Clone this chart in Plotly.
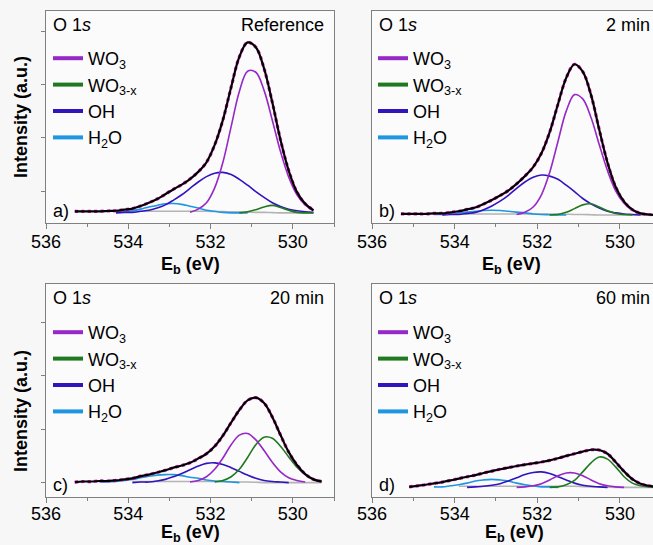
import plotly.graph_objects as go

# Binding-energy grid (eV) shared by every spectrum
E_GRID = [535.3, 535.1, 534.9, 534.7, 534.5, 534.3, 534.1, 533.9, 533.7, 533.5,
          533.3, 533.1, 532.9, 532.7, 532.5, 532.3, 532.1, 531.9, 531.7, 531.5,
          531.3, 531.1, 530.9, 530.7, 530.5, 530.3, 530.1, 529.9, 529.7, 529.5,
          529.3, 529.1]

# ---- a) Reference ----
ENV_A = [0.03, 0.03, 0.03, 0.03, 0.035, 0.04, 0.06, 0.08, 0.13, 0.19, 0.26, 0.35, 0.445,
         0.53, 0.635, 0.77, 0.95, 1.275, 1.745, 2.36, 2.93, 3.20, 3.11, 2.71, 2.075,
         1.37, 0.79, 0.39, 0.17, 0.05]
WO3_A = [0.01, 0.07, 0.19, 0.47, 0.95, 1.62, 2.28, 2.66, 2.64, 2.30, 1.74, 1.15, 0.67,
         0.34, 0.15, 0.04]
WOX_A = [0.00, 0.02, 0.06, 0.11, 0.14, 0.10, 0.05, 0.01, 0.00, 0.00]
OH_A = [0.00, 0.01, 0.01, 0.03, 0.05, 0.09, 0.15, 0.24, 0.34, 0.46, 0.58, 0.68, 0.745,
        0.76, 0.72, 0.63, 0.52, 0.40, 0.29, 0.19, 0.12, 0.07, 0.04, 0.02, 0.01]
H2O_A = [0.01, 0.02, 0.04, 0.07, 0.11, 0.14, 0.17, 0.175, 0.16, 0.125, 0.09, 0.05, 0.03,
         0.01, 0.00, 0.00, 0.00]
BG_A = [0.03, 0.03, 0.03, 0.03, 0.03, 0.03, 0.03, 0.03, 0.03, 0.03, 0.025, 0.025, 0.02,
        0.02, 0.015, 0.01, 0.01, 0.005, 0.0, 0.0, 0.0, 0.0, 0.0]

# ---- b) 2 min ----
ENV_B = [0.02, 0.02, 0.02, 0.02, 0.03, 0.03, 0.05, 0.07, 0.105, 0.14, 0.205, 0.28, 0.365,
         0.46, 0.585, 0.73, 0.90, 1.16, 1.556, 2.08, 2.575, 2.83, 2.69, 2.255, 1.60, 0.98,
         0.52, 0.25, 0.10, 0.03, 0.01, 0.0]
WO3_B = [0.01, 0.05, 0.15, 0.38, 0.80, 1.38, 1.95, 2.26, 2.18, 1.83, 1.32, 0.83, 0.45,
         0.22, 0.09, 0.03, 0.01]
WOX_B = [0.00, 0.01, 0.05, 0.12, 0.19, 0.21, 0.15, 0.08, 0.03, 0.01, 0.00]
OH_B = [0.00, 0.01, 0.01, 0.03, 0.05, 0.10, 0.17, 0.26, 0.37, 0.50, 0.62, 0.71, 0.75,
        0.73, 0.67, 0.56, 0.44, 0.31, 0.21, 0.13, 0.07, 0.04, 0.02, 0.01, 0.00]
H2O_B = [0.01, 0.01, 0.02, 0.04, 0.055, 0.07, 0.085, 0.09, 0.085, 0.07, 0.055, 0.04,
         0.02, 0.01, 0.006, 0.0, 0.0]
BG_B = [0.02, 0.02, 0.02, 0.02, 0.02, 0.02, 0.02, 0.02, 0.02, 0.02, 0.02, 0.02, 0.02,
        0.015, 0.01, 0.01, 0.005, 0.0, 0.0, 0.0, 0.0, 0.0, 0.0, 0.0, 0.0]

# ---- c) 20 min ----
ENV_C = [0.01, 0.02, 0.02, 0.03, 0.03, 0.04, 0.06, 0.08, 0.12, 0.15, 0.19, 0.23, 0.28,
         0.32, 0.37, 0.45, 0.54, 0.68, 0.88, 1.125, 1.36, 1.54, 1.59, 1.49, 1.23, 0.89,
         0.57, 0.33, 0.16, 0.06, 0.02]
WO3_C = [0.01, 0.04, 0.11, 0.25, 0.46, 0.71, 0.89, 0.92, 0.80, 0.60, 0.38, 0.20, 0.09,
         0.04, 0.01]
WOX_C = [0.01, 0.04, 0.11, 0.25, 0.47, 0.71, 0.85, 0.83, 0.68, 0.48, 0.29, 0.15, 0.06,
         0.02]
OH_C = [0.00, 0.01, 0.01, 0.03, 0.06, 0.11, 0.17, 0.24, 0.31, 0.36, 0.37, 0.34, 0.28,
        0.21, 0.14, 0.08, 0.04, 0.02, 0.01, 0.00]
H2O_C = [0.01, 0.01, 0.02, 0.04, 0.06, 0.09, 0.12, 0.14, 0.15, 0.15, 0.13, 0.10, 0.08,
         0.05, 0.03, 0.02, 0.01, 0.00]
BG_C = [0.02, 0.02, 0.02, 0.02, 0.02, 0.02, 0.02, 0.02, 0.02, 0.02, 0.02, 0.02, 0.015,
        0.01, 0.01, 0.005, 0.0, 0.0, 0.0, 0.0, 0.0, 0.0, 0.0, 0.0]

# ---- d) 60 min ----
ENV_D = [0.01, 0.03, 0.05, 0.075, 0.10, 0.13, 0.165, 0.20, 0.23, 0.27, 0.305, 0.34, 0.37,
         0.40, 0.425, 0.45, 0.475, 0.505, 0.545, 0.59, 0.63, 0.67, 0.705, 0.70, 0.63,
         0.47, 0.30, 0.155, 0.07, 0.03, 0.01]
WO3_D = [0.00, 0.01, 0.03, 0.07, 0.14, 0.22, 0.27, 0.27, 0.22, 0.14, 0.07, 0.03, 0.01,
         0.00]
WOX_D = [0.00, 0.01, 0.05, 0.13, 0.29, 0.46, 0.57, 0.53, 0.38, 0.20, 0.08, 0.03, 0.01,
         0.00]
OH_D = [0.00, 0.01, 0.02, 0.04, 0.07, 0.12, 0.18, 0.24, 0.28, 0.29, 0.26, 0.20, 0.14,
        0.08, 0.04, 0.02, 0.01, 0.00]
H2O_D = [0.01, 0.01, 0.03, 0.05, 0.08, 0.12, 0.14, 0.15, 0.14, 0.12, 0.08, 0.05, 0.03,
         0.01, 0.01, 0.00]
BG_D = [0.02, 0.02, 0.02, 0.02, 0.02, 0.02, 0.02, 0.02, 0.02, 0.02, 0.02, 0.02, 0.02,
        0.02, 0.02, 0.015, 0.01, 0.01, 0.005, 0.0, 0.0, 0.0, 0.0, 0.0, 0.0]

LEGEND_NAMES = ["WO<sub>3</sub>", "WO<sub>3-x</sub>", "OH", "H<sub>2</sub>O"]
PANEL_TAGS = ["a)", "b)", "c)", "d)"]
PANEL_TITLES = ["Reference", "2 min", "20 min", "60 min"]
X_TITLE = "<b>E<sub>b</sub> (eV)</b>"
Y_TITLE = "<b>Intensity (a.u.)</b>"

C_WO3 = "#9628c8"
C_WOX = "#1f7a1f"
C_OH = "#3214be"
C_H2O = "#1e96e1"
C_BG = "#b4b4b4"
C_DATA = "#e61ec8"
C_FIT = "#000000"
FRAME = "#808080"
FONT = "Liberation Sans, Arial, sans-serif"

# (start energy of each series, values)
PANELS = [
    dict(env=(535.3, ENV_A), wo3=(532.5, WO3_A), wox=(531.3, WOX_A), oh=(534.3, OH_A),
         h2o=(534.3, H2O_A), bg=(533.9, BG_A)),
    dict(env=(535.3, ENV_B), wo3=(532.5, WO3_B), wox=(531.7, WOX_B), oh=(534.3, OH_B),
         h2o=(534.5, H2O_B), bg=(533.9, BG_B)),
    dict(env=(535.3, ENV_C), wo3=(532.5, WO3_C), wox=(531.9, WOX_C), oh=(533.9, OH_C),
         h2o=(534.7, H2O_C), bg=(533.9, BG_C)),
    dict(env=(535.1, ENV_D), wo3=(532.5, WO3_D), wox=(531.7, WOX_D), oh=(533.7, OH_D),
         h2o=(534.5, H2O_D), bg=(533.9, BG_D)),
]


def span(series):
    e_start, values = series
    i0 = E_GRID.index(e_start)
    return E_GRID[i0:i0 + len(values)], values


W, H = 653, 545
# plot-area boxes in pixels: (left, right, top, bottom)
BOXES = [(46, 334, 11, 223), (372, 653, 11, 223), (46, 334, 284, 497), (372, 653, 284, 497)]
X_RANGES = [[536, 529], [536, 529.2], [536, 529], [536, 529.2]]
Y_RANGES = [[-0.19, 3.79], [-0.15, 3.83], [-0.27, 3.72], [-0.18, 3.81]]
Y_TICKS = [[0.41, 1.41, 2.41, 3.41], [], [0, 1, 2, 3], []]
LEGEND_POS = [(48, 40), (373, 40), (48, 314), (373, 314)]
TICK_SHIFT = [-3, -3, -5, -5]
X_TITLE_POS = [(190, 265), (511, 265), (190, 533), (514, 533)]
Y_TITLE_POS = [(21, 117), None, (21, 411), None]

fig = go.Figure()
legend_ids = ["legend", "legend2", "legend3", "legend4"]

for k, p in enumerate(PANELS):
    xa = "x" if k == 0 else f"x{k + 1}"
    ya = "y" if k == 0 else f"y{k + 1}"
    comps = [("bg", C_BG), ("h2o", C_H2O), ("oh", C_OH), ("wox", C_WOX), ("wo3", C_WO3)]
    for key, col in comps:
        xs, ys = span(p[key])
        fig.add_trace(go.Scatter(x=xs, y=ys, mode="lines", xaxis=xa, yaxis=ya,
                                 line=dict(color=col, width=1.6, shape="spline"),
                                 showlegend=False, hoverinfo="skip"))
    xs, ys = span(p["env"])
    fig.add_trace(go.Scatter(x=xs, y=ys, mode="lines", xaxis=xa, yaxis=ya,
                             line=dict(color=C_DATA, width=3.2, dash="dot", shape="spline"),
                             showlegend=False, hoverinfo="skip"))
    fig.add_trace(go.Scatter(x=xs, y=ys, mode="lines", xaxis=xa, yaxis=ya,
                             line=dict(color=C_FIT, width=2.2, shape="spline"),
                             showlegend=False, hoverinfo="skip"))
    # legend entries
    for name, col in zip(LEGEND_NAMES, [C_WO3, C_WOX, C_OH, C_H2O]):
        fig.add_trace(go.Scatter(x=[None], y=[None], mode="lines", xaxis=xa, yaxis=ya,
                                 name=name, line=dict(color=col, width=4),
                                 legend=legend_ids[k], showlegend=True))

layout = dict(width=W, height=H, autosize=False,
              margin=dict(l=0, r=0, t=0, b=0, pad=0),
              paper_bgcolor="#f7f7f7", plot_bgcolor="#fbfbfb",
              font=dict(family=FONT, size=18, color="#000000"),
              showlegend=True)

annotations = []
for k in range(4):
    l, r, t, b = BOXES[k]
    sx = "" if k == 0 else str(k + 1)
    right_panel = k in (1, 3)
    layout["xaxis" + sx] = dict(
        domain=[l / W, r / W], range=X_RANGES[k], anchor="y" + sx, automargin=False,
        showline=True, linecolor=FRAME, linewidth=1, mirror=True,
        showgrid=False, zeroline=False,
        tickmode="linear", tick0=530, dtick=2,
        ticks="outside", ticklen=5, tickwidth=1, tickcolor=FRAME,
        ticklabelstandoff=TICK_SHIFT[k],
        minor=dict(dtick=1, ticks="outside", ticklen=3, tickcolor=FRAME, showgrid=False),
        tickfont=dict(size=18, family=FONT),
    )
    yax = dict(
        domain=[1 - b / H, 1 - t / H], range=Y_RANGES[k], anchor="x" + sx,
        automargin=False,
        showline=True, linecolor=FRAME, linewidth=1, mirror=not right_panel,
        showgrid=False, zeroline=False, showticklabels=False,
    )
    if Y_TICKS[k]:
        yax.update(tickmode="array", tickvals=Y_TICKS[k], ticks="outside", ticklen=4,
                   tickcolor=FRAME)
    else:
        yax.update(ticks="")
    layout["yaxis" + sx] = yax

    lx, ly = LEGEND_POS[k]
    layout[legend_ids[k]] = dict(x=lx / W, y=1 - ly / H, xanchor="left", yanchor="top",
                                 bgcolor="rgba(0,0,0,0)", borderwidth=0,
                                 font=dict(size=18, family=FONT), tracegroupgap=0,
                                 itemwidth=30)

    xd = "x" + sx + " domain"
    yd = "y" + sx + " domain"
    annotations.append(dict(text="O 1<i>s</i>", xref=xd, yref=yd, x=0, y=1,
                            xanchor="left", yanchor="top", xshift=5, yshift=-2,
                            showarrow=False, font=dict(size=18, family=FONT)))
    annotations.append(dict(text=PANEL_TITLES[k], xref=xd, yref=yd, x=1, y=1,
                            xanchor="right", yanchor="top",
                            xshift=-1 if right_panel else -8, yshift=-2,
                            showarrow=False, font=dict(size=18, family=FONT)))
    annotations.append(dict(text=PANEL_TAGS[k], xref=xd, yref=yd, x=0, y=0,
                            xanchor="left", yanchor="bottom", xshift=5, yshift=0,
                            showarrow=False, font=dict(size=18, family=FONT)))
    tx, ty = X_TITLE_POS[k]
    annotations.append(dict(text=X_TITLE, xref="paper", yref="paper", x=tx / W,
                            y=1 - ty / H, xanchor="center", yanchor="middle",
                            showarrow=False, font=dict(size=18, family=FONT)))
    if Y_TITLE_POS[k]:
        yx, yy = Y_TITLE_POS[k]
        annotations.append(dict(text=Y_TITLE, xref="paper", yref="paper", x=yx / W,
                                y=1 - yy / H, xanchor="center", yanchor="middle",
                                textangle=-90, showarrow=False,
                                font=dict(size=18, family=FONT)))

layout["annotations"] = annotations
fig.update_layout(**layout)

fig.write_html("out.html")
